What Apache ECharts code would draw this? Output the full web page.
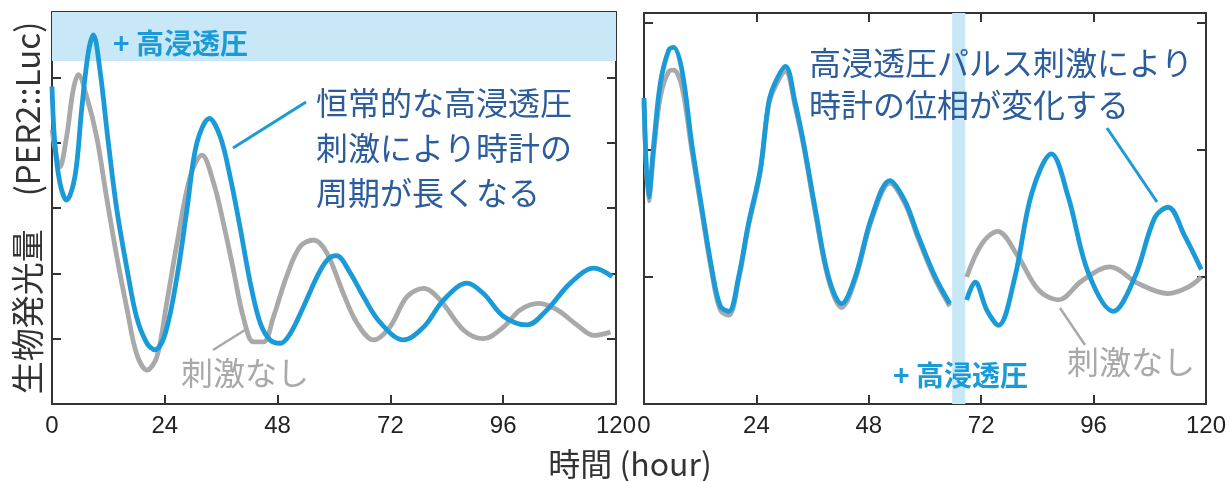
<!DOCTYPE html>
<html>
<head>
<meta charset="utf-8">
<style>
  html, body { margin: 0; padding: 0; background: #fff; }
  #chart { width: 1229px; height: 481px; }
</style>
<script src="https://cdn.jsdelivr.net/npm/echarts@6/dist/echarts.min.js"></script>
</head>
<body>
<div id="chart"></div>
<script>
// x axis ticks (hour)
var hourTicks = [0, 24, 48, 72, 96, 120];

// 左: 恒常的な高浸透圧 (blue) / 刺激なし (gray)
var leftBlueT = [0, 0.6, 1.7, 3.1, 4.9, 6.3, 7.7, 8.8, 10.2, 12.0, 13.8, 16.0, 18.0, 20.2, 21.9, 24.1, 26.6, 28.7, 30.8, 33.5, 35.8, 37.9, 40.0, 42.2, 44.3, 46.4, 48.6, 50.7, 53.5, 56.4, 58.5, 60.5, 63.5, 66.3, 69.9, 74.8, 79.1, 83.3, 88.3, 91.8, 96.1, 101.1, 105.3, 110.3, 115.3, 119.2];
var leftBlueV = [4.86, 3.99, 3.38, 3.12, 3.49, 4.5, 5.37, 5.65, 5.11, 3.99, 2.97, 2.05, 1.33, 0.93, 0.83, 1.08, 1.95, 2.97, 3.99, 4.37, 4.09, 3.48, 2.71, 1.85, 1.24, 0.98, 0.93, 1.08, 1.49, 1.95, 2.2, 2.27, 2.0, 1.64, 1.24, 0.98, 1.18, 1.59, 1.85, 1.69, 1.34, 1.21, 1.44, 1.85, 2.08, 1.95];
var leftGrayT = [0, 1.7, 3.1, 4.5, 5.6, 7.4, 9.5, 11.6, 13.8, 16.0, 18.0, 20.2, 22.3, 24.4, 26.6, 29.4, 31.9, 34.4, 36.5, 38.6, 40.7, 42.9, 45.0, 47.1, 49.9, 52.8, 55.7, 58.5, 62.0, 64.9, 68.4, 71.9, 75.5, 79.1, 82.6, 87.6, 91.8, 96.1, 99.6, 103.6, 107.5, 111.7, 115.3, 118.8];
var leftGrayV = [4.2, 3.63, 4.09, 4.8, 5.04, 4.7, 4.09, 3.17, 2.25, 1.44, 0.77, 0.52, 0.72, 1.54, 2.46, 3.48, 3.81, 3.38, 2.76, 2.05, 1.33, 0.95, 0.95, 1.33, 1.95, 2.41, 2.51, 2.31, 1.69, 1.24, 0.98, 1.18, 1.64, 1.77, 1.59, 1.13, 1.0, 1.18, 1.44, 1.54, 1.44, 1.21, 1.05, 1.1];

// 右: 高浸透圧パルス (blue) / 刺激なし (gray); null = gap under the pulse band
var rightBlueT = [0, 1.0, 2.1, 3.5, 5.3, 6.3, 8.1, 10.2, 12.4, 14.5, 16.3, 18.1, 20.2, 22.3, 24.8, 26.6, 28.0, 30.2, 32.3, 34.1, 36.6, 39.4, 42.2, 45.1, 48.6, 52.5, 55.7, 58.6, 62.2, 65.3, 67, 68.9, 70.7, 73.2, 75.7, 79.2, 82.8, 87.0, 90.6, 94.9, 100.2, 104.8, 109.1, 111.9, 115.5, 119.0];
var rightBlueV = [2.41, 1.63, 2.05, 2.53, 2.79, 2.81, 2.63, 2.05, 1.53, 1.06, 0.77, 0.73, 1.0, 1.42, 1.84, 2.37, 2.53, 2.66, 2.37, 2.05, 1.53, 1.0, 0.79, 1.0, 1.47, 1.76, 1.6, 1.32, 1.0, 0.79, null, 0.82, 0.96, 0.74, 0.62, 1.0, 1.66, 1.97, 1.63, 1.03, 0.73, 1.0, 1.47, 1.55, 1.32, 1.06];
var rightGrayT = [0, 1.0, 2.1, 3.5, 5.3, 6.3, 8.1, 10.2, 12.4, 14.5, 16.3, 18.1, 20.2, 22.3, 24.8, 26.6, 28.0, 30.2, 32.3, 34.1, 36.6, 39.4, 42.2, 45.1, 48.6, 52.5, 55.7, 58.6, 62.2, 65.3, 67, 68.9, 72.1, 75.5, 79.9, 84.2, 88.5, 93.5, 99.5, 105.5, 111.9, 116.2, 119.0];
var rightGrayV = [2.38, 1.6, 2.0, 2.42, 2.62, 2.63, 2.5, 2.0, 1.5, 1.03, 0.74, 0.7, 0.98, 1.4, 1.82, 2.35, 2.5, 2.62, 2.34, 2.03, 1.5, 0.98, 0.76, 0.98, 1.45, 1.74, 1.58, 1.3, 0.98, 0.77, null, 1.0, 1.26, 1.36, 1.16, 0.9, 0.82, 0.97, 1.08, 0.95, 0.87, 0.92, 1.0];

// 刺激の範囲
var leftBand = [5.25, 6];
var rightBand = [65.8, 68.6];

function pairs(t, v) {
  return t.map(function (x, i) { return [x, v[i]]; });
}

var BLUE = '#1a9bd7';
var GRAY = '#a9a9a9';
var TEXTBLUE = '#2b5c9b';
var BANDCOLOR = '#c8e7f7';
var JP = '"Noto Sans CJK JP", sans-serif';

function xAx(grid, pos, labels) {
  return {
    type: 'value', gridIndex: grid, position: pos, min: 0, max: 120, interval: 24,
    axisLine: { show: true, onZero: false, lineStyle: { color: '#333', width: 2 } },
    axisTick: { show: true, inside: true, length: 9, lineStyle: { color: '#333', width: 2 } },
    axisLabel: { show: labels, fontSize: 24, color: '#222', margin: 10,
      fontFamily: '"Liberation Sans", Arial, sans-serif' },
    splitLine: { show: false }
  };
}
function yAx(grid, pos, max) {
  return {
    type: 'value', gridIndex: grid, position: pos, min: 0, max: max, interval: 1,
    axisLine: { show: true, onZero: false, lineStyle: { color: '#333', width: 2 } },
    axisTick: { show: true, inside: true, length: 9, lineStyle: { color: '#333', width: 2 } },
    axisLabel: { show: false },
    splitLine: { show: false }
  };
}

var chart = echarts.init(document.getElementById('chart'));
chart.setOption({
  animation: false,
  backgroundColor: '#fff',
  grid: [
    { left: 52, top: 12, width: 564, height: 392 },
    { left: 644, top: 13, width: 564, height: 391 }
  ],
  xAxis: [xAx(0, 'bottom', true), xAx(0, 'top', false), xAx(1, 'bottom', true), xAx(1, 'top', false)],
  yAxis: [yAx(0, 'left', 6), yAx(0, 'right', 6), yAx(1, 'left', 3.08), yAx(1, 'right', 3.08)],
  series: [
    {
      type: 'line', xAxisIndex: 0, yAxisIndex: 0, z: 2, showSymbol: false, smooth: 0.35,
      data: pairs(leftGrayT, leftGrayV),
      lineStyle: { color: GRAY, width: 4.8 },
      markArea: { silent: true, itemStyle: { color: BANDCOLOR }, data: [[{ yAxis: leftBand[0] }, { yAxis: leftBand[1] }]] }
    },
    {
      type: 'line', xAxisIndex: 0, yAxisIndex: 0, z: 3, showSymbol: false, smooth: 0.35,
      data: pairs(leftBlueT, leftBlueV),
      lineStyle: { color: BLUE, width: 4.8 }
    },
    {
      type: 'line', xAxisIndex: 2, yAxisIndex: 2, z: 2, showSymbol: false, smooth: 0.35,
      data: pairs(rightGrayT, rightGrayV),
      lineStyle: { color: GRAY, width: 4.8 },
      markArea: { silent: true, itemStyle: { color: BANDCOLOR }, data: [[{ xAxis: rightBand[0] }, { xAxis: rightBand[1] }]] }
    },
    {
      type: 'line', xAxisIndex: 2, yAxisIndex: 2, z: 3, showSymbol: false, smooth: 0.35,
      data: pairs(rightBlueT, rightBlueV),
      lineStyle: { color: BLUE, width: 4.8 }
    }
  ],
  graphic: [
    // y axis title
    { type: 'text', x: 27, y: 208, rotation: Math.PI / 2, z: 10,
      style: { text: '生物発光量\u3000(PER2::Luc)', font: '33px ' + JP, fill: '#333', align: 'center', verticalAlign: 'middle' } },
    // x axis title
    { type: 'text', x: 630, y: 464, z: 10,
      style: { text: '時間 (hour)', font: '32px ' + JP, fill: '#333', align: 'center', verticalAlign: 'middle' } },
    // left panel annotations
    { type: 'text', x: 113, y: 43, z: 10,
      style: { text: '+ 高浸透圧', font: 'bold 28px ' + JP, fill: BLUE, verticalAlign: 'middle' } },
    { type: 'text', x: 316, y: 148, z: 10,
      style: { text: '恒常的な高浸透圧\n刺激により時計の\n周期が長くなる', font: '32px ' + JP, lineHeight: 45, fill: TEXTBLUE, verticalAlign: 'middle' } },
    { type: 'line', z: 10, shape: { x1: 233, y1: 148, x2: 306, y2: 102 }, style: { stroke: BLUE, lineWidth: 3 } },
    { type: 'text', x: 181, y: 373, z: 10,
      style: { text: '刺激なし', font: '32px ' + JP, fill: GRAY, verticalAlign: 'middle' } },
    { type: 'line', z: 10, shape: { x1: 213, y1: 350, x2: 245, y2: 330 }, style: { stroke: GRAY, lineWidth: 2.5 } },
    // right panel annotations
    { type: 'text', x: 809, y: 84, z: 10,
      style: { text: '高浸透圧パルス刺激により\n時計の位相が変化する', font: '32px ' + JP, lineHeight: 42, fill: TEXTBLUE, verticalAlign: 'middle' } },
    { type: 'line', z: 10, shape: { x1: 1107, y1: 128, x2: 1157, y2: 202 }, style: { stroke: BLUE, lineWidth: 3 } },
    { type: 'text', x: 893, y: 375, z: 10,
      style: { text: '+ 高浸透圧', font: 'bold 28px ' + JP, fill: BLUE, verticalAlign: 'middle' } },
    { type: 'text', x: 1067, y: 362, z: 10,
      style: { text: '刺激なし', font: '32px ' + JP, fill: GRAY, verticalAlign: 'middle' } },
    { type: 'line', z: 10, shape: { x1: 1060, y1: 308, x2: 1085, y2: 345 }, style: { stroke: GRAY, lineWidth: 2.5 } }
  ]
});
</script>
</body>
</html>
